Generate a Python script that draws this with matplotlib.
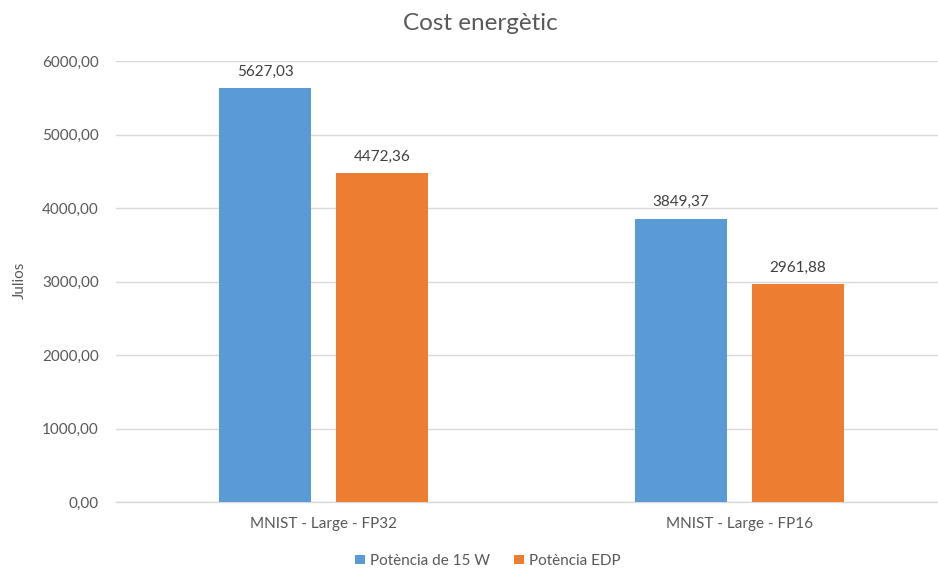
import matplotlib
matplotlib.use("Agg")
import matplotlib.pyplot as plt
from matplotlib.patches import Patch
import numpy as np

categories = ["MNIST - Large - FP32", "MNIST - Large - FP16"]
series_names = ["Potència de 15 W", "Potència EDP"]
potencia_15w = [5627.03, 3849.37]
potencia_edp = [4472.36, 2961.88]
yticks = [0, 1000, 2000, 3000, 4000, 5000, 6000]

colors = ["#5B9BD5", "#ED7D31"]
text_color = "#595959"
grid_color = "#D9D9D9"

plt.rcParams["font.family"] = ["Lato", "DejaVu Sans"]

def fmt(v):
    return f"{v:.2f}".replace(".", ",")

fig = plt.figure(figsize=(9.38, 5.70), dpi=100)
ax = fig.add_axes([115.5 / 938, 68 / 570, 832 / 938, 441 / 570])

x = np.arange(len(categories))
width = 0.221
offset = 0.1406

for vals, off, col in [(potencia_15w, -offset, colors[0]), (potencia_edp, offset, colors[1])]:
    bars = ax.bar(x + off, vals, width=width, color=col, zorder=3)
    for b, v in zip(bars, vals):
        ax.annotate(fmt(v), (b.get_x() + b.get_width() / 2, v),
                    xytext=(0, 7), textcoords="offset points",
                    ha="center", va="bottom", fontsize=11, color="#404040")

ax.set_xlim(-0.5, 1.5)
ax.set_ylim(0, 6000)
ax.set_yticks(yticks)
ax.set_yticklabels([fmt(t) for t in yticks], fontsize=11, color=text_color)
ax.set_xticks(x)
ax.set_xticklabels(categories, fontsize=11, color=text_color)
ax.tick_params(axis="y", length=0, pad=12)
ax.tick_params(axis="x", length=0, pad=11)

ax.grid(axis="y", color=grid_color, linewidth=1, zorder=0)
for s in ["top", "right", "left"]:
    ax.spines[s].set_visible(False)
ax.spines["bottom"].set_color(grid_color)
ax.spines["bottom"].set_linewidth(1)

fig.text(20 / 938, 1 - 280 / 570, "Julios", rotation=90, ha="center", va="center",
         fontsize=11, color=text_color)
fig.text(480 / 938, 1 - 23 / 570, "Cost energètic", ha="center", va="center",
         fontsize=17.5, color=text_color)

handles = [Patch(facecolor=c, edgecolor="none") for c in colors]
fig.legend(handles, series_names, loc="center", bbox_to_anchor=(488 / 938, 1 - 561 / 570),
           ncol=2, frameon=False, fontsize=11, labelcolor=text_color,
           handlelength=0.6, handleheight=0.6, handletextpad=0.35, columnspacing=1.6)

fig.savefig("out.png", dpi=100)
